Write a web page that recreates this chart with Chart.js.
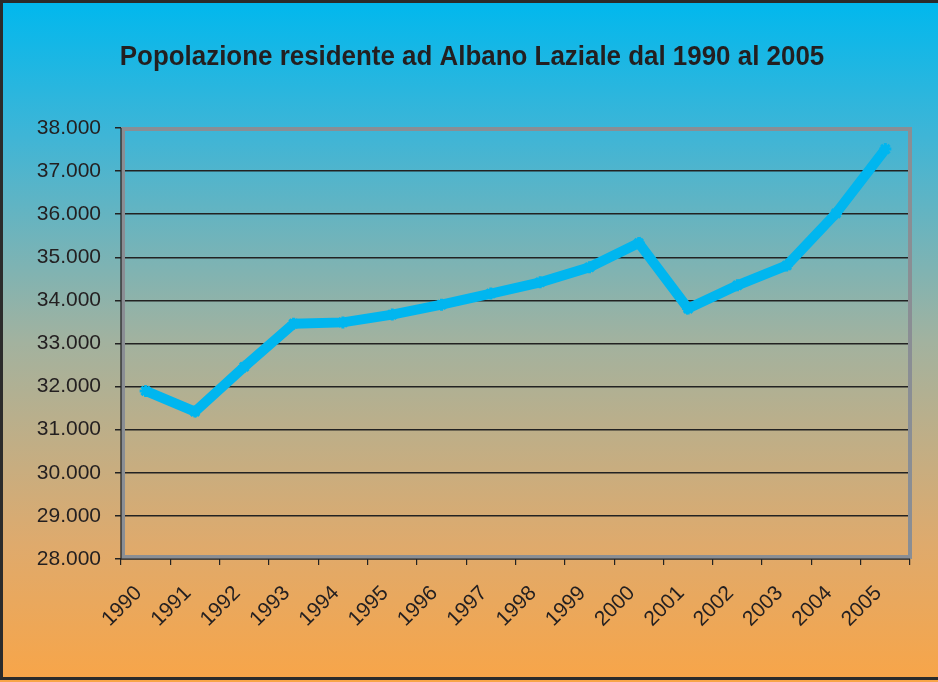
<!DOCTYPE html>
<html>
<head>
<meta charset="utf-8">
<script src="https://cdn.jsdelivr.net/npm/chart.js@4.4.1/dist/chart.umd.min.js"></script>
<style>
  html, body { margin: 0; padding: 0; background: #f8a548; overflow: hidden; width: 938px; height: 682px; }
  #myChart { display: block; width: 938px; height: 682px; }
</style>
</head>
<body>
<canvas id="myChart" width="938" height="682"></canvas>
<script>
// dati
const years = ['1990', '1991', '1992', '1993', '1994', '1995', '1996', '1997',
  '1998', '1999', '2000', '2001', '2002', '2003', '2004', '2005'];
const population = [31900, 31420, 32460, 33460, 33490, 33670, 33900, 34160,
  34420, 34770, 35330, 33810, 34350, 34810, 36020, 37510];
const yMin = 28000;
const yMax = 38000;
const yStep = 1000;
const titleText = 'Popolazione residente ad Albano Laziale dal 1990 al 2005';

const textColor = '#231f20';
const lineColor = '#00b6ef';
const fontFamily = 'Liberation Sans, Arial, sans-serif';

function formatIt(v){
  return String(v).replace(/\B(?=(\d{3})+(?!\d))/g, '.');
}

// sfondo sfumato, cornice esterna, titolo, bordo area grafico
const backdrop = {
  id: 'backdrop',
  beforeDraw(chart){
    const c = chart.ctx;
    const w = chart.width, h = chart.height;
    const g = c.createLinearGradient(0, 0, 0, h);
    g.addColorStop(0, '#00b8ee');
    g.addColorStop(0.2, '#3fb5d6');
    g.addColorStop(0.5, '#a2b29f');
    g.addColorStop(0.8, '#dfaa6c');
    g.addColorStop(1, '#f8a548');
    c.save();
    c.fillStyle = g;
    c.fillRect(0, 0, w, h);
    c.strokeStyle = '#2b2b2b';
    c.lineWidth = 3;
    c.beginPath();
    c.moveTo(w + 5, 1.5);
    c.lineTo(1.5, 1.5);
    c.lineTo(1.5, h - 3.5);
    c.lineTo(w + 5, h - 3.5);
    c.stroke();
    // titolo
    c.translate(472, 58);
    c.scale(0.96, 1);
    c.fillStyle = textColor;
    c.font = 'bold 27px ' + fontFamily;
    c.textAlign = 'center';
    c.textBaseline = 'middle';
    c.fillText(titleText, 0, 0);
    c.restore();
  },
  beforeDatasetsDraw(chart){
    const a = chart.chartArea;
    const c = chart.ctx;
    c.save();
    c.strokeStyle = '#8a8e94';
    c.lineWidth = 4;
    c.strokeRect(a.left + 2, a.top + 1, a.right - a.left - 2, a.bottom - a.top - 3);
    c.strokeStyle = '#222';
    c.lineWidth = 1.2;
    c.beginPath();
    c.moveTo(a.left, a.top);
    c.lineTo(a.left, a.bottom);
    c.lineTo(a.right, a.bottom);
    c.stroke();
    c.restore();
  }
};

const ctx = document.getElementById('myChart').getContext('2d');
// eslint-disable-next-line no-undef
const chart = new Chart(ctx, {
  type: 'line',
  data: {
    labels: years,
    datasets: [{
      label: 'Popolazione',
      data: population,
      borderColor: lineColor,
      backgroundColor: lineColor,
      borderWidth: 10,
      tension: 0,
      pointStyle: 'star',
      pointRadius: 6,
      pointBorderWidth: 3,
      pointBorderColor: lineColor,
    }]
  },
  options: {
    responsive: false,
    animation: false,
    layout: { padding: { left: 0, right: 28, top: 128, bottom: 0 } },
    plugins: {
      legend: { display: false },
      tooltip: { enabled: false },
      title: { display: false },
    },
    scales: {
      x: {
        offset: true,
        grid: { offset: true, drawOnChartArea: false, drawTicks: true, tickLength: 6, color: '#222', lineWidth: 1.2 },
        border: { display: false },
        ticks: {
          color: textColor,
          font: { family: fontFamily, size: 21 },
          minRotation: 45,
          maxRotation: 45,
          padding: 16,
          labelOffset: -7,
          autoSkip: false,
        },
        afterFit(scale){ scale.height = 123; },
      },
      y: {
        min: yMin,
        max: yMax,
        grid: { color: '#222', lineWidth: 1.5, tickLength: 6 },
        border: { display: false },
        ticks: {
          stepSize: yStep,
          color: textColor,
          font: { family: fontFamily, size: 21 },
          padding: 14,
          callback: v => formatIt(v),
        },
        afterFit(scale){ scale.width = 121; },
      },
    },
  },
  plugins: [backdrop],
});
</script>
</body>
</html>
